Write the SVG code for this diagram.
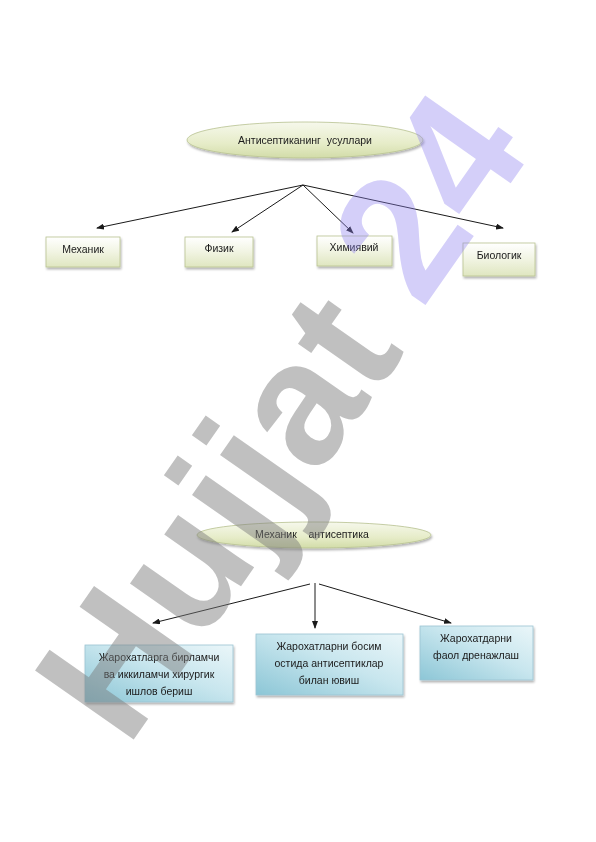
<svg xmlns="http://www.w3.org/2000/svg" width="596" height="842" viewBox="0 0 596 842">
<style>
.t{font-family:"Liberation Sans",Arial,sans-serif;font-size:10.5px;fill:#1a1a1a;text-anchor:middle}
.g{stroke:#b8c290;stroke-width:0.8}
.b{stroke:#9cc4d2;stroke-width:0.8}
.c{stroke:#1a1a1a;stroke-width:1;fill:none;marker-end:url(#ah)}
.wm{font-family:"Liberation Sans",Arial,sans-serif;font-weight:bold;font-size:175px}
</style>
<defs>
<marker id="ah" markerWidth="8" markerHeight="6" refX="7" refY="3" orient="auto" markerUnits="userSpaceOnUse">
<path d="M0,0 L8,3 L0,6 z" fill="#1a1a1a"/>
</marker>
<linearGradient id="gEl" x1="0" y1="0" x2="0" y2="1">
<stop offset="0" stop-color="#f6f8ec"/>
<stop offset="0.6" stop-color="#e6ecc8"/>
<stop offset="1" stop-color="#d2dca8"/>
</linearGradient>
<linearGradient id="gBox" x1="0" y1="0" x2="0" y2="1">
<stop offset="0" stop-color="#ffffff"/>
<stop offset="0.5" stop-color="#f1f4e2"/>
<stop offset="1" stop-color="#dfe6c0"/>
</linearGradient>
<linearGradient id="bBox" x1="0" y1="1" x2="1" y2="0">
<stop offset="0" stop-color="#8cc6d6"/>
<stop offset="0.55" stop-color="#c8e6ee"/>
<stop offset="1" stop-color="#eaf6f9"/>
</linearGradient>
<filter id="sh" x="-10%" y="-10%" width="130%" height="140%">
<feDropShadow dx="1" dy="2" stdDeviation="1.2" flood-color="#000" flood-opacity="0.3"/>
</filter>
</defs>
<rect width="596" height="842" fill="#ffffff"/>

<g id="root1" filter="url(#sh)">
<ellipse cx="305" cy="140" rx="118" ry="18" fill="url(#gEl)" class="g"/>
<text class="t" x="305" y="144" xml:space="preserve">Антисептиканинг  усуллари</text>
</g>
<g id="mexanik" filter="url(#sh)">
<rect x="46" y="237" width="74" height="30" fill="url(#gBox)" class="g"/>
<text class="t" x="83" y="253">Механик</text>
</g>
<g id="fizik" filter="url(#sh)">
<rect x="185" y="237" width="68" height="30" fill="url(#gBox)" class="g"/>
<text class="t" x="219" y="252">Физик</text>
</g>
<g id="ximiyaviy" filter="url(#sh)">
<rect x="317" y="236" width="75" height="30" fill="url(#gBox)" class="g"/>
<text class="t" x="354" y="251">Химиявий</text>
</g>
<g id="biologik" filter="url(#sh)">
<rect x="463" y="243" width="72" height="33" fill="url(#gBox)" class="g"/>
<text class="t" x="499" y="259">Биологик</text>
</g>

<g id="root2" filter="url(#sh)">
<ellipse cx="314" cy="535" rx="117" ry="13" fill="url(#gEl)" class="g"/>
<text class="t" x="312" y="538" xml:space="preserve">Механик    антисептика</text>
</g>
<g id="box1" filter="url(#sh)">
<rect x="85" y="645" width="148" height="57" fill="url(#bBox)" class="b"/>
<text class="t" x="159" y="661">Жарохатларга бирламчи</text>
<text class="t" x="159" y="678">ва иккиламчи хирургик</text>
<text class="t" x="159" y="695">ишлов бериш</text>
</g>
<g id="box2" filter="url(#sh)">
<rect x="256" y="634" width="147" height="61" fill="url(#bBox)" class="b"/>
<text class="t" x="329" y="650">Жарохатларни босим</text>
<text class="t" x="329" y="667">остида антисептиклар</text>
<text class="t" x="329" y="684">билан ювиш</text>
</g>
<g id="box3" filter="url(#sh)">
<rect x="420" y="626" width="113" height="54" fill="url(#bBox)" class="b"/>
<text class="t" x="476" y="642">Жарохатдарни</text>
<text class="t" x="476" y="659">фаол дренажлаш</text>
</g>

<g id="connectors">
<line class="c" x1="303" y1="185" x2="97" y2="228"/>
<line class="c" x1="303" y1="185" x2="232" y2="232"/>
<line class="c" x1="303" y1="185" x2="353" y2="233"/>
<line class="c" x1="303" y1="185" x2="503" y2="228"/>
<line class="c" x1="310" y1="584" x2="153" y2="623"/>
<line class="c" x1="315" y1="583" x2="315" y2="628"/>
<line class="c" x1="319" y1="584" x2="451" y2="623"/>
</g>

<g id="watermark">
<text class="wm" transform="translate(127,749) rotate(-55)" fill="#7a7a7a" fill-opacity="0.47">Hujjat</text>
<text class="wm" transform="translate(422,310) rotate(-55)" fill="#8f80f0" fill-opacity="0.38">24</text>
</g>
</svg>
